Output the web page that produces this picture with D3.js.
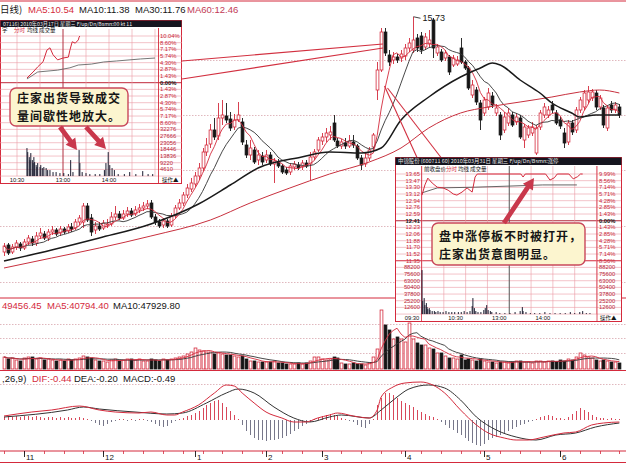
<!DOCTYPE html>
<html><head><meta charset="utf-8">
<script src="https://cdn.jsdelivr.net/npm/d3@7/dist/d3.min.js"></script>
<style>
html,body{margin:0;padding:0;background:#fff;overflow:hidden}
svg{display:block}
</style></head><body>
<svg id="c" width="626" height="465"></svg>
<script>
// ================= DATA =================
const titleLabels=["日线)","MA5:10.54","MA10:11.38","MA30:11.76","MA60:12.46"];
const volLabels=["49456.45","MA5:40794.40","MA10:47929.80"];
const macdLabels=[",26,9)","DIF:-0.44","DEA:-0.20","MACD:-0.49"];
const monthLabels=["11","12","1","2","3","4","5","6"];
const monthDay=[5,25,48,66,80,101,121,140];

const open=[6.32,6.60,6.32,6.52,6.64,6.48,6.72,6.84,6.68,6.96,
7.04,6.88,7.12,7.20,7.08,7.24,7.16,7.32,7.28,7.52,
7.52,8.16,7.68,7.20,7.36,7.28,7.40,7.44,7.72,7.84,
7.68,7.84,7.96,7.84,8.00,8.08,8.16,8.28,7.72,7.52,
7.40,7.56,7.40,7.76,8.08,8.28,8.60,8.84,9.04,9.36,
9.68,10.32,10.64,11.20,10.96,11.68,11.76,11.64,11.32,11.60,
11.52,10.60,10.20,10.40,10.00,10.16,10.00,10.20,9.84,9.92,
9.76,9.60,9.52,9.72,9.80,9.72,9.88,9.84,10.12,10.40,
10.76,10.92,11.00,11.48,10.76,10.56,10.68,10.56,10.72,10.56,
10.08,9.84,10.08,10.52,12.80,13.60,15.12,14.20,14.00,14.12,
14.08,14.16,14.48,14.40,14.88,14.96,14.52,14.64,15.60,14.28,
14.32,14.08,14.12,13.80,13.84,14.48,13.92,13.68,12.60,12.80,
12.28,11.88,12.12,12.56,11.88,11.80,11.20,11.48,11.80,11.52,
11.68,10.80,11.00,11.08,10.28,11.32,11.80,11.80,12.20,11.88,
11.60,11.08,10.72,11.48,11.20,12.00,12.12,12.40,12.48,12.68,
12.12,12.08,11.28,12.20,12.00,12.12];
const close=[6.56,6.28,6.52,6.68,6.48,6.72,6.88,6.68,6.96,7.08,
6.88,7.12,7.20,7.04,7.24,7.12,7.32,7.24,7.52,7.68,
8.16,7.60,7.12,7.36,7.24,7.48,7.44,7.72,7.84,7.68,
7.84,7.96,7.80,8.00,8.08,8.16,8.24,7.72,7.52,7.36,
7.56,7.36,7.76,8.08,8.28,8.60,8.88,9.08,9.36,9.68,
10.32,10.60,11.20,10.92,11.68,11.80,11.60,11.28,11.60,11.80,
10.72,10.20,10.48,9.92,10.20,9.92,10.20,9.84,9.96,9.76,
9.52,9.48,9.76,9.84,9.68,9.88,9.76,10.12,10.32,10.80,
10.92,11.08,11.12,10.80,10.56,10.72,10.56,10.76,10.60,10.08,
9.80,10.08,10.40,11.00,13.60,15.12,14.28,13.92,14.12,14.00,
14.24,14.48,14.68,14.80,14.48,14.40,14.92,14.80,14.48,14.52,
14.00,14.28,13.52,14.08,14.00,13.92,13.68,12.88,13.00,12.32,
11.60,12.40,12.68,12.20,12.08,11.00,11.72,11.88,11.40,11.72,
10.92,11.32,11.28,11.32,11.28,11.88,12.12,12.00,12.00,11.48,
11.36,10.68,11.48,11.12,12.00,12.40,12.68,12.72,12.72,12.12,
12.48,11.40,12.08,12.00,12.20,11.80];
const high=[6.68,6.68,6.64,6.80,6.72,6.84,7.00,6.96,7.12,7.28,
7.16,7.24,7.36,7.28,7.36,7.32,7.44,7.48,7.64,7.80,
8.28,8.28,7.84,7.52,7.52,7.60,7.64,7.92,8.16,7.96,
8.00,8.12,8.08,8.16,8.24,8.32,8.40,8.40,7.84,7.64,
7.68,7.64,7.88,8.20,8.44,8.72,9.04,9.28,9.52,9.88,
10.48,10.88,11.44,11.68,12.28,12.40,12.28,11.92,11.84,12.32,
11.68,10.80,10.80,10.52,10.40,10.32,10.40,10.32,10.08,10.04,
9.84,9.72,9.88,9.96,9.92,10.00,10.00,10.32,10.44,10.92,
11.08,11.28,11.36,11.80,10.88,10.84,10.88,11.00,11.00,10.64,
10.20,10.28,10.52,11.08,13.92,15.28,15.28,14.40,14.32,14.24,
14.40,14.64,14.88,15.73,15.04,15.12,15.08,15.20,15.68,14.64,
14.44,14.40,14.20,14.20,14.16,14.88,14.00,13.76,13.20,12.92,
12.40,12.52,12.88,12.72,12.24,11.92,11.92,12.08,11.92,11.88,
11.80,11.44,11.40,11.52,11.40,12.00,12.28,12.16,12.36,12.00,
11.72,11.28,11.60,11.60,12.12,12.52,12.80,12.96,12.84,12.80,
12.60,12.20,12.20,12.36,12.32,12.24];
const low=[6.16,6.20,6.24,6.40,6.36,6.40,6.60,6.56,6.56,6.84,
6.80,6.76,7.00,6.96,6.96,7.04,7.08,7.12,7.20,7.40,
7.28,7.52,6.96,7.04,7.16,7.20,7.28,7.36,7.60,7.60,
7.60,7.72,7.72,7.76,7.88,7.96,8.04,7.64,7.40,7.28,
7.28,7.28,7.32,7.68,8.00,8.16,8.48,8.72,8.92,9.20,
9.56,10.16,10.48,10.80,10.80,11.40,11.48,11.16,11.20,11.52,
10.60,10.08,10.00,9.84,9.80,9.80,9.88,9.76,9.08,9.68,
9.44,9.40,9.40,9.60,9.60,9.60,9.68,9.20,10.00,10.32,
10.60,10.72,10.80,10.72,10.48,10.44,10.44,10.48,10.48,10.00,
9.60,9.72,9.96,10.40,12.40,13.52,14.16,13.76,13.84,13.88,
13.92,14.00,14.32,14.28,14.32,14.24,14.40,14.52,14.08,14.16,
13.92,13.96,13.40,13.72,13.76,13.84,13.60,12.80,12.48,12.20,
11.20,11.76,12.00,12.08,11.76,10.80,11.08,11.36,11.32,11.40,
10.84,10.48,10.88,10.96,10.20,11.20,11.68,11.68,11.88,11.40,
11.24,10.48,10.60,11.00,11.08,11.88,12.00,12.28,12.36,12.00,
12.00,11.28,11.16,11.88,11.88,11.68];
const volume=[18000,15000,16500,13500,12000,16500,18000,18000,15000,16500,
13500,15000,13500,12000,13500,12000,15000,13500,15000,16500,
19500,18000,16500,13500,12000,12000,10500,13500,15000,12000,
13500,15000,15000,13500,15000,12000,12000,15000,13500,12000,
15000,13500,15000,16500,18000,19500,22500,25500,31500,28500,
27000,25500,25500,22500,24000,22500,21000,21000,19500,18000,
19500,15000,12000,12000,10500,10500,10500,10500,12000,9000,
9000,7500,7500,7500,9000,7500,9000,12000,18000,18000,
15000,13500,15000,18000,16500,9000,7500,7500,9000,7500,
7500,6000,9000,18000,30000,88500,66000,58500,45000,48000,
45000,40500,69000,45000,39000,36000,36000,31500,30000,24000,
24000,19500,16500,16500,15000,21000,13500,15000,13500,12000,
15000,12000,10500,10500,9000,10500,10500,9000,10500,12000,
12000,10500,10500,9000,12000,12000,10500,12000,12000,10500,
13500,12000,15000,13500,18000,24000,21000,18000,16500,13500,
12000,13500,12000,10500,10500,9000];
const macdHist=[0.06,0.08,0.06,0.08,0.06,0.08,0.08,0.06,0.08,0.06,
0.04,0.06,0.06,0.04,0.06,0.04,0.06,0.04,0.04,0.06,
0.04,0.02,-0.02,-0.06,-0.10,-0.12,-0.08,-0.04,-0.02,0.02,
0.02,-0.02,0.02,-0.02,0.02,0.02,-0.02,-0.04,-0.08,-0.12,
-0.14,-0.12,-0.06,-0.02,0.02,0.04,0.08,0.10,0.14,0.18,
0.24,0.30,0.34,0.38,0.40,0.34,0.26,0.18,0.10,0.02,
-0.10,-0.22,-0.30,-0.36,-0.40,-0.40,-0.42,-0.40,-0.40,-0.38,
-0.36,-0.32,-0.28,-0.22,-0.18,-0.12,-0.08,-0.04,0.02,0.04,
0.08,0.10,0.12,0.10,0.08,0.04,0.02,-0.02,-0.04,-0.10,
-0.14,-0.16,-0.08,0.02,0.30,0.44,0.54,0.54,0.50,0.44,
0.38,0.34,0.30,0.26,0.20,0.16,0.12,0.08,0.06,0.02,
-0.04,-0.10,-0.16,-0.20,-0.26,-0.30,-0.36,-0.42,-0.46,-0.50,
-0.52,-0.48,-0.40,-0.36,-0.34,-0.30,-0.26,-0.22,-0.18,-0.14,
-0.10,-0.08,-0.04,-0.02,0.02,0.06,0.08,0.10,0.08,0.04,
0.04,0.02,0.06,0.12,0.18,0.24,0.20,0.16,0.10,0.06,
0.04,0.04,0.02,0.04,0.02,0.02];

const ma30Day=[0,12,24,37,49,57,64,75,82,90,95,100,107,115,120,123,125,130,135,138,143,145,149,155];
const ma30Val=[5.96,6.40,6.88,7.44,8.24,9.00,9.68,10.12,10.32,10.28,10.48,11.60,12.52,13.32,13.68,13.88,13.80,13.20,12.68,12.28,11.88,11.72,11.80,11.80];
const ma60Day=[0,12,24,37,52,62,72,82,92,100,107,115,122,130,138,145,150,155];
const ma60Val=[5.68,6.08,6.48,6.96,7.60,8.28,8.88,9.44,9.92,10.48,11.28,11.88,12.12,12.32,12.52,12.72,12.80,12.68];
const difDay=[0,7,12,19,24,28,34,37,41,43,45,49,53,56,58,60,63,66,70,73,76,79,82,84,88,92,94,95,98,101,105,108,111,115,119,122,126,129,132,136,141,144,148,151,155];
const difVal=[0.08,0.16,0.20,0.28,0.20,0.16,0.14,0.16,0.10,0.10,0.16,0.30,0.54,0.70,0.68,0.54,0.34,0.16,0.04,-0.04,-0.04,0.04,0.10,0.14,0.08,0.04,0.20,0.46,0.66,0.74,0.76,0.70,0.54,0.20,-0.10,-0.26,-0.36,-0.40,-0.40,-0.34,-0.26,-0.24,-0.10,-0.06,-0.04];
const deaDay=[0,16,20,24,33,41,45,51,56,59,63,68,73,77,82,85,92,95,99,102,107,111,115,119,124,129,134,139,144,149,155];
const deaVal=[0.06,0.20,0.26,0.22,0.16,0.12,0.14,0.34,0.54,0.62,0.54,0.26,0.04,-0.04,0.06,0.10,0.04,0.20,0.46,0.62,0.70,0.64,0.40,0.06,-0.20,-0.34,-0.40,-0.30,-0.26,-0.14,-0.06];

const highMarkDay=103, highMarkLabel="15.73";
const gridPrice=[14.0,11.8,9.6,7.36,5.12];
const gridVol=[24000,46000,68000];
const gridMacd=[0.72];
const linkDay=95, linkPricesL=[14.64,14.48], linkPricesR=[12.96,12.88];

// left inset (intraday, day of volume bursts)
const liHeader="07116)  2010年03月17日  星期三  F/up/Dn/Bsmn:00 kt 11";
const liSub=["字","分时","均线","成交量"];
const liPctLabels=["10.04%","8.60%","7.17%","5.74%","4.30%","2.87%","1.43%","0.00%","1.43%","2.87%","4.30%","5.74%","7.17%","8.60%"];
const liVolLabels=["32276","27666","23056","18446","13836","9220","4610"];
const liTimeLabels=["10:30","13:00","14:00"];
const liTimeMin=[60,120,180];
const liPriceMin=[73,81,87,94,99,103,107,113,120,127,129,132,136,140,141,142];
const liPricePct=[1.0,2.3,3.4,4.5,7.0,7.5,6.0,4.9,5.3,5.5,7.0,8.8,8.5,9.2,9.8,10.04];
const liAvgMin=[73,87,113,129,140,157,173,190,221,240];
const liAvgPct=[0.8,2.3,2.7,3.2,3.8,4.0,4.45,4.67,5.1,5.3];
const liVolMin=[73,74,76,77,78,80,81,82,83,85,86,87,90,91,93,95,98,100,103,107,111,116,121,127,130,133,141,142,145,150,155,162,168,174,176,179,181,184,187,192,200,207,215,224,231,237];
const liVol=[19350,16600,13100,11050,15900,11050,8980,13100,9670,7600,6220,8980,6220,7600,5530,6220,5530,4150,4150,2760,2760,2070,2070,1380,11050,2760,17970,8980,2760,2070,1380,1380,1380,4150,8980,16580,7600,5530,4150,1380,1380,2760,1380,3450,1380,1380];
const liCallout=["庄家出货导致成交","量间歇性地放大。"];

// right inset (intraday, limit-up day)
const riHeader="中锦股份 (600711 60)  2010年03月31日  星期三  F/up/Dn/Bsmn:涨停";
const riSub=["前收盘价","分时","均线","成交量"];
const riPriceLabels=["13.65","13.47","13.30","13.12","12.94","12.76","12.59","12.41","12.23","12.06","11.88","11.70","11.52","11.35"];
const riPctLabels=["9.99%","8.56%","7.14%","5.71%","4.28%","2.85%","1.43%","0.00%","1.43%","2.85%","4.28%","5.71%","7.14%","8.56%"];
const riVolLabels=["88200","75600","63000","50400","37800","25200","12600"];
const riTimeLabels=["09:30","10:30","13:00","14:00"];
const riTimeMin=[0,60,120,180];
const riPriceMin=[0,4,8,14,21,29,36,43,48,55,62,69,73,76,136,139,142,170,176,182,186,202,208,214,218,221];
const riPrice=[13.09,13.36,13.54,13.41,13.30,13.28,13.22,13.12,13.09,13.17,13.28,13.17,13.57,13.65,13.65,13.57,13.65,13.65,13.49,13.55,13.65,13.65,13.52,13.58,13.65,13.65];
const riAvgMin=[0,21,73,121,166,213];
const riAvgPrice=[13.15,13.28,13.30,13.33,13.36,13.36];
const riVolMin=[0,1,3,4,6,7,8,10,11,14,17,19,22,25,29,33,37,41,45,50,54,58,62,66,69,70,72,74,77,81,85,87,89,91,94,96,102,107,114,121,128,135,138,139,143,149,155,162,169,176,183,190,197,204,210,217,221,226,231];
const riVol=[83100,24600,30200,17000,20800,13200,9400,11300,7600,5700,5700,3800,5700,3800,3800,5700,3800,3800,3800,3800,3800,5700,3800,5700,15100,30200,11300,5700,3800,3800,7600,11300,17000,7600,5700,3800,3800,1900,1900,1900,3800,5700,13200,5700,3800,1900,1900,1900,3800,1900,1900,1900,1900,3800,1900,3800,5700,1900,1900];
const riCallout=["盘中涨停板不时被打开，","庄家出货意图明显。"];

// ================= DRAW =================
const SANS='"Liberation Sans",Arial,sans-serif';
const CJK='"Noto Sans CJK SC","Noto Sans",sans-serif';
const RED='#d42a3c', PINK='#eb9aa4', BLK='#151515', DOT='#d8a6ad';
const svg=d3.select('#c');
svg.append('rect').attr('width',626).attr('height',465).attr('fill','#fff');

const x=d3.scaleLinear().domain([0,155]).range([4,619.35]);
const yP=d3.scaleLinear().domain([4.8,16.4]).range([290,0]);
const yV=d3.scaleLinear().domain([0,90000]).range([369,309]);
const yM=d3.scaleLinear().domain([-0.6,0.9]).range([450,375]);
const px=i=>Math.round(x(i))+0.5;

function hl(g,y,x1,x2,col,w,dash){const l=g.append('line').attr('x1',x1).attr('x2',x2).attr('y1',y).attr('y2',y).attr('stroke',col).attr('stroke-width',w);if(dash)l.attr('stroke-dasharray',dash);return l;}
function vl(g,xx,y1,y2,col,w){return g.append('line').attr('x1',xx).attr('x2',xx).attr('y1',y1).attr('y2',y2).attr('stroke',col).attr('stroke-width',w);}
function txt(g,xx,y,s,size,col,opts){const t=g.append('text').attr('x',xx).attr('y',y).text(s).attr('font-size',size).attr('fill',col).attr('font-family',(opts&&opts.font)||SANS);if(opts&&opts.anchor)t.attr('text-anchor',opts.anchor);if(opts&&opts.bold)t.attr('font-weight','bold');return t;}
function callText(g,xx,y,s,size,col){return g.append('text').attr('x',xx).attr('y',y).text(s).attr('font-size',size).attr('fill',col)
  .attr('font-family',CJK).attr('font-weight','bold').attr('letter-spacing',1);}

const main=svg.append('g');
[1,298,370.5,451,462.5].forEach(yy=>hl(main,yy,0,626,RED,1));
gridPrice.forEach(p=>hl(main,Math.round(yP(p))+0.5,0,626,DOT,0.8,'1.5,1.5'));
gridVol.forEach(v=>hl(main,Math.round(yV(v))+0.5,0,626,DOT,0.8,'1.5,1.5'));
gridMacd.forEach(v=>hl(main,Math.round(yM(v))+0.5,0,626,DOT,0.8,'1.5,1.5'));

// title
const titleCols=[BLK,RED,BLK,BLK,'#c23a55'];
const titleX=[0,28,79,135,187];
titleLabels.forEach((s,i)=>txt(main,titleX[i],13,s,9.5,titleCols[i],{font:i===0?CJK:SANS}));

// candles
const gC=main.append('g');
open.forEach((o,i)=>{
  const c=close[i], up=c>=o, col=up?RED:BLK, cx=px(i);
  const yt=yP(Math.max(o,c)), yb=yP(Math.min(o,c));
  vl(gC,cx,yP(high[i]),yP(low[i]),col,0.9);
  gC.append('rect').attr('x',cx-1.4).attr('y',yt).attr('width',2.8).attr('height',Math.max(yb-yt,1))
    .attr('fill',up?'#fff':BLK).attr('stroke',col).attr('stroke-width',0.8);
});
const maN=n=>close.map((c,i)=>d3.mean(close.slice(Math.max(0,i-n+1),i+1)));
const lineIdx=d3.line().x((d,i)=>x(i)).y(d=>yP(d));
main.append('path').attr('d',lineIdx(maN(10))).attr('fill','none').attr('stroke','#333').attr('stroke-width',0.9);
main.append('path').attr('d',lineIdx(maN(5))).attr('fill','none').attr('stroke',RED).attr('stroke-width',0.9);
const lineSparse=d3.line().x(d=>x(d[0])).y(d=>yP(d[1])).curve(d3.curveMonotoneX);
main.append('path').attr('d',lineSparse(ma60Day.map((d,i)=>[d,ma60Val[i]]))).attr('fill','none').attr('stroke','#c8303e').attr('stroke-width',1);
main.append('path').attr('d',lineSparse(ma30Day.map((d,i)=>[d,ma30Val[i]]))).attr('fill','none').attr('stroke','#1a1a1a').attr('stroke-width',1.5);
{const hx=px(highMarkDay), hy=yP(high[highMarkDay]);
 main.append('line').attr('x1',hx).attr('y1',hy).attr('x2',hx+7).attr('y2',hy+1.5).attr('stroke',BLK).attr('stroke-width',0.8);
 txt(main,hx+9,hy+4,highMarkLabel,9,BLK);}

// volume
txt(main,2,309,volLabels[0],9.5,RED);txt(main,47,309,volLabels[1],9.5,RED);txt(main,113,309,volLabels[2],9.5,BLK);
const gV=main.append('g');
volume.forEach((v,i)=>{const up=close[i]>=open[i];const cx=px(i);const yt=yV(v);
  gV.append('rect').attr('x',cx-1.4).attr('y',yt).attr('width',2.8).attr('height',yV(0)-yt)
   .attr('fill',up?'#fff':BLK).attr('stroke',up?RED:BLK).attr('stroke-width',0.8);});
const vma=n=>volume.map((c,i)=>d3.mean(volume.slice(Math.max(0,i-n+1),i+1)));
const lineV=d3.line().x((d,i)=>x(i)).y(d=>yV(d));
main.append('path').attr('d',lineV(vma(10))).attr('fill','none').attr('stroke','#333').attr('stroke-width',0.9);
main.append('path').attr('d',lineV(vma(5))).attr('fill','none').attr('stroke',RED).attr('stroke-width',0.9);

// macd
const mcCols=[BLK,RED,BLK,BLK], mcX=[2,32,74,123];
macdLabels.forEach((s,i)=>txt(main,mcX[i],382,s,9.5,mcCols[i]));
macdHist.forEach((h,i)=>vl(main,px(i),yM(0),yM(h),h>=0?'#d8485a':'#77778a',1));
const lineM=d3.line().x(d=>x(d[0])).y(d=>yM(d[1])).curve(d3.curveMonotoneX);
main.append('path').attr('d',lineM(deaDay.map((d,i)=>[d,deaVal[i]]))).attr('fill','none').attr('stroke','#333').attr('stroke-width',1);
main.append('path').attr('d',lineM(difDay.map((d,i)=>[d,difVal[i]]))).attr('fill','none').attr('stroke',RED).attr('stroke-width',1);

// x axis
d3.range(0,156,5).forEach(i=>vl(main,px(i),451,454,RED,0.8));
monthDay.forEach((d,i)=>{vl(main,px(d),451,457,BLK,0.9);txt(main,px(d)+1.5,459.5,monthLabels[i],8,BLK);});

// connectors
const LINK='#d23040';
linkPricesL.forEach((p,i)=>main.append('line').attr('x1',182).attr('y1',[61,79][i]).attr('x2',px(linkDay)+1.5).attr('y2',yP(p)).attr('stroke',LINK).attr('stroke-width',1.1));
linkPricesR.forEach((p,i)=>main.append('line').attr('x1',px(linkDay)+3+i*3).attr('y1',yP(p)).attr('x2',[417,441][i]).attr('y2',157.5).attr('stroke',LINK).attr('stroke-width',1.1));

function arrow(g,x1,y1,x2,y2,col){
  const dx=x2-x1,dy=y2-y1,L=Math.hypot(dx,dy),ux=dx/L,uy=dy/L,nx=-uy,ny=ux;
  const hw=2.4,hl2=11,hh=6;const bx=x2-ux*hl2,by=y2-uy*hl2;
  const pts=[[x1+nx*hw,y1+ny*hw],[bx+nx*hw,by+ny*hw],[bx+nx*hh,by+ny*hh],[x2,y2],[bx-nx*hh,by-ny*hh],[bx-nx*hw,by-ny*hw],[x1-nx*hw,y1-ny*hw]];
  g.append('polygon').attr('points',pts.map(p=>p.join(',')).join(' ')).attr('fill',col);
}

// ---------- LEFT INSET ----------
{
const g=svg.append('g');
const rowY=k=>36+k*6.67;
const lx=d3.scaleLinear().domain([0,240]).range([-29,155]);
const ly=d3.scaleLinear().domain([0,10.04]).range([rowY(7),rowY(0)]);
const lv=d3.scaleLinear().domain([0,32276]).range([rowY(21),rowY(14)]);
g.append('rect').attr('x',0.5).attr('y',20.5).attr('width',181).attr('height',163).attr('fill','#fff').attr('stroke',RED);
d3.range(22).forEach(k=>hl(g,rowY(k),0,182,k===7?'#c0283a':PINK,k===7?1:0.6));
d3.range(0,241,30).forEach(m=>{const xx=lx(m);if(xx>1&&xx<158)vl(g,xx,29,rowY(21),m===120?'#b03040':PINK,m===120?1:0.6);});
vl(g,158.5,28,184,RED,0.9);
g.append('rect').attr('x',0.5).attr('y',20.5).attr('width',181).attr('height',6.5).attr('fill','#15151f');
txt(g,3,25.8,liHeader,5.2,'#e8e8e8',{font:CJK});
const subX=[2,14,27,39];liSub.forEach((s,i)=>txt(g,subX[i],32,s,5.5,i===1?RED:BLK,{font:CJK}));
liPctLabels.forEach((s,k)=>txt(g,160,rowY(k)+2,s,5.8,k===7?BLK:'#c8283a',{bold:k===7}));
liVolLabels.forEach((s,k)=>txt(g,160,rowY(k+14)+2,s,5.8,'#b8283a'));
liTimeMin.forEach((m,i)=>txt(g,lx(m),181.5,liTimeLabels[i],5.8,BLK,{anchor:'middle'}));
txt(g,162,181.5,"操作▲",5.5,BLK,{font:CJK});
liVolMin.forEach((m,i)=>vl(g,lx(m),lv(0),lv(liVol[i]),'#1c1c30',1));
const ll=d3.line().x(d=>lx(d[0])).y(d=>ly(d[1]));
g.append('path').attr('d',ll(liAvgMin.map((m,i)=>[m,liAvgPct[i]]))).attr('fill','none').attr('stroke','#666').attr('stroke-width',0.9);
g.append('path').attr('d',ll(liPriceMin.map((m,i)=>[m,liPricePct[i]]))).attr('fill','none').attr('stroke',RED).attr('stroke-width',1);
g.append('rect').attr('x',10).attr('y',88).attr('width',118).attr('height',38).attr('rx',6).attr('fill','#fcf5cf').attr('stroke','#c9485b').attr('stroke-width',1.4);
liCallout.forEach((s,i)=>callText(g,17,103+i*17.8,s,12,BLK));
arrow(g,60,127,77,150,'#c9384c');
arrow(g,86,127,106,149,'#c9384c');
}

// ---------- RIGHT INSET ----------
{
const g=svg.append('g');
const rowY=k=>174+k*6.67;
const rx=d3.scaleLinear().domain([0,240]).range([422,596.5]);
const ry=d3.scaleLinear().domain([11.35,13.65]).range([rowY(13),rowY(0)]);
const rv=d3.scaleLinear().domain([0,88200]).range([rowY(21),rowY(14)]);
g.append('rect').attr('x',395.5).attr('y',157.5).attr('width',226).attr('height',164).attr('fill','#fff').attr('stroke',RED);
d3.range(22).forEach(k=>hl(g,rowY(k),396,621,k===7?'#b0283a':(k===13?RED:PINK),k===7||k===13?1.1:0.6));
d3.range(0,241,30).forEach(m=>vl(g,rx(m),166,rowY(21),m===120?'#555':PINK,m===120?1:0.6));
vl(g,421.5,166,322,RED,0.8);vl(g,597,166,322,RED,0.8);
g.append('rect').attr('x',395.5).attr('y',157.5).attr('width',226).attr('height',7.5).attr('fill','#15151f');
txt(g,398,163.3,riHeader,5.4,'#e8e8e8',{font:CJK});
const subX=[424,446,458,470];riSub.forEach((s,i)=>txt(g,subX[i],171,s,5.5,i===1?RED:BLK,{font:CJK}));
riPriceLabels.forEach((s,k)=>txt(g,420,rowY(k)+2,s,5.8,k===7?BLK:'#c8283a',{anchor:'end',bold:k===7}));
riVolLabels.forEach((s,k)=>{txt(g,420,rowY(k+14)+2,s,5.8,'#b8283a',{anchor:'end'});txt(g,599,rowY(k+14)+2,s,5.8,'#b8283a');});
riPctLabels.forEach((s,k)=>txt(g,599,rowY(k)+2,s,5.8,k===7?BLK:'#c8283a',{bold:k===7}));
riTimeMin.forEach((m,i)=>txt(g,rx(m)-10,320,riTimeLabels[i],5.8,BLK,{anchor:'middle'}));
txt(g,600,320,"操作▲",5.5,BLK,{font:CJK});
riVolMin.forEach((m,i)=>vl(g,rx(m),rv(0),rv(riVol[i]),'#1c1c30',1));
const rl=d3.line().x(d=>rx(d[0])).y(d=>ry(d[1]));
g.append('path').attr('d',rl(riAvgMin.map((m,i)=>[m,riAvgPrice[i]]))).attr('fill','none').attr('stroke','#555').attr('stroke-width',0.9);
g.append('path').attr('d',rl(riPriceMin.map((m,i)=>[m,riPrice[i]]))).attr('fill','none').attr('stroke',RED).attr('stroke-width',1);
g.append('rect').attr('x',432).attr('y',223).attr('width',153).attr('height',42).attr('rx',6).attr('fill','#fcf5cf').attr('stroke','#c9485b').attr('stroke-width',1.4);
riCallout.forEach((s,i)=>callText(g,439,241+i*17.8,s,12,BLK));
arrow(g,504,223,534,178,'#c9384c');
}
</script></body></html>
